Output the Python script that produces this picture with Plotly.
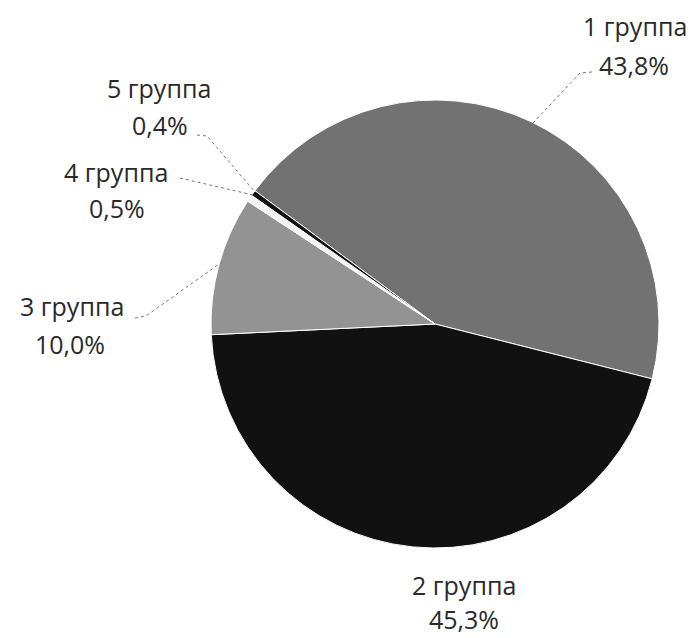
import plotly.graph_objects as go

groups = ["1 группа", "2 группа", "3 группа", "4 группа", "5 группа"]
shares = [43.8, 45.3, 10.0, 0.5, 0.4]
pct_labels = ["43,8%", "45,3%", "10,0%", "0,5%", "0,4%"]
colors = ["#727272", "#111111", "#939393", "#f2f2f2", "#111111"]

# the page body has an 8px margin: figure drawn 8px in from the window edge
OFF = 8
W, H = 694 - OFF, 638 - OFF

# label block centers (window pixels): name line / percent line
name_pos = [(635, 26), (464, 585), (72, 306), (116, 172), (159, 88)]
pct_pos = [(634, 65), (464, 619), (70, 344), (117, 208), (160, 125)]
leaders = [
    [(592, 72), (580, 73), (533, 123)],
    None,
    [(135, 318), (146, 316), (222, 262)],
    [(180, 178), (253, 195)],
    [(197, 135), (207, 136), (255, 192)],
]


def px(x, y):
    return (x - OFF) / W, 1 - (y - OFF) / H


x0, y0 = px(211, 548)
x1, y1 = px(659, 100)

fig = go.Figure(go.Pie(
    labels=groups, values=shares, sort=False, direction="clockwise",
    rotation=-53.5, textinfo="none", hoverinfo="label+percent",
    marker=dict(colors=colors, line=dict(color="white", width=1)),
    domain=dict(x=[x0, x1], y=[y0, y1]),
    showlegend=False,
))

annotations = []
for i in range(len(groups)):
    for txt, (x, y) in ((groups[i], name_pos[i]), (pct_labels[i], pct_pos[i])):
        ax, ay = px(x, y)
        annotations.append(dict(x=ax, y=ay, xref="paper", yref="paper", text=txt,
                                showarrow=False, xanchor="center", yanchor="middle",
                                font=dict(family="Open Sans", size=25, color="#2a2a2a")))

shapes = []
for pts in leaders:
    if not pts:
        continue
    path = "M " + " L ".join(f"{px(x, y)[0]},{px(x, y)[1]}" for x, y in pts)
    shapes.append(dict(type="path", path=path, xref="paper", yref="paper",
                       line=dict(color="#777", width=1, dash="dot")))

fig.update_layout(width=W, height=H, margin=dict(l=0, r=0, t=0, b=0),
                  paper_bgcolor="white", plot_bgcolor="white",
                  annotations=annotations, shapes=shapes)

fig.write_html("out.html")
